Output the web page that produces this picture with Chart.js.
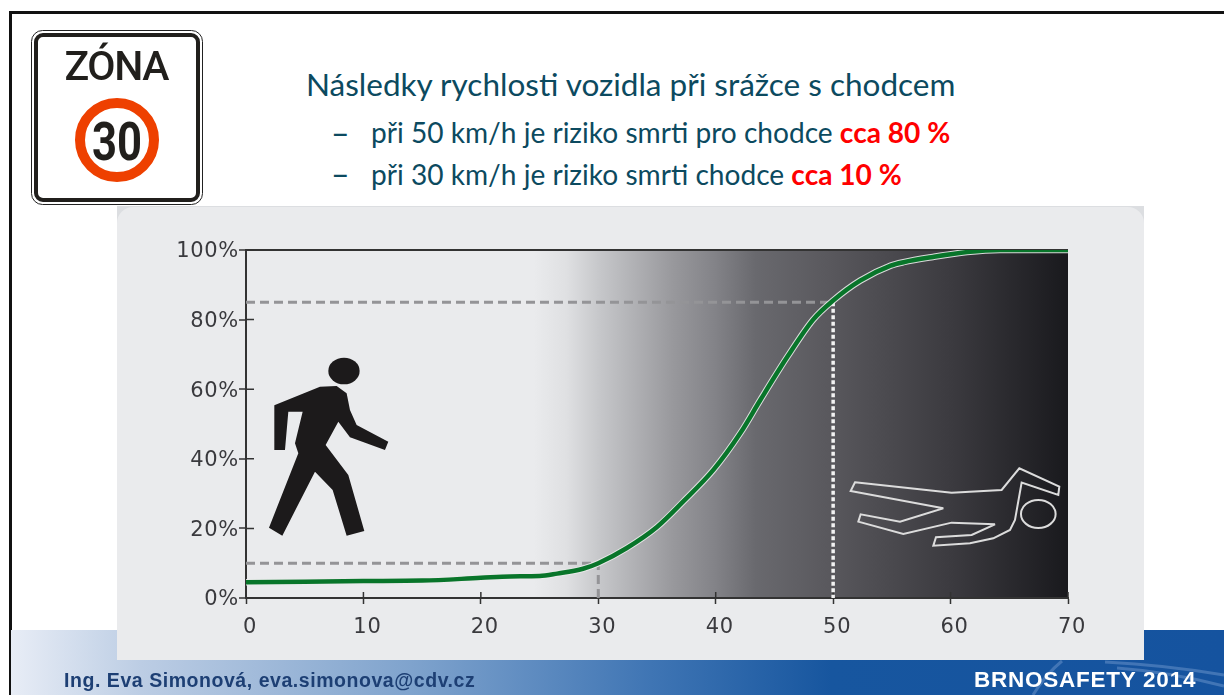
<!DOCTYPE html>
<html lang="cs">
<head>
<meta charset="utf-8">
<title>Následky rychlosti vozidla</title>
<script src="https://cdn.jsdelivr.net/npm/chart.js@4"></script>
<style>
html, body { margin: 0; padding: 0; width: 1224px; height: 695px; overflow: hidden; background: #fff; }
.abs { position: absolute; white-space: nowrap; }
#frameTop { left: 9px; top: 11px; width: 1215px; height: 3px; background: #111; }
#frameLeft { left: 9px; top: 11px; width: 2.5px; height: 684px; background: #111; }
#footer { left: 11px; top: 630px; width: 1213px; height: 65px;
    background: linear-gradient(90deg, #e8edf6 0, #bccde4 130px, #7fa3cd 400px, #3f75b4 640px, #17569f 820px, #15539f 100%); }
#title { left: 306px; top: 65px; font: 31.5px Lato, sans-serif; color: #0c4a5f; }
.bullet { font: 28.1px Lato, sans-serif; color: #0c4a5f; }
.bullet b { color: #f00; }
.dash { font: 32px Lato, sans-serif; color: #0c4a5f; }
#dash1 { left: 331px; top: 113px; }
#dash2 { left: 331px; top: 154px; }
#line1 { left: 371px; top: 115px; }
#line2 { left: 371px; top: 157px; }
#panelBack { left: 117px; top: 206px; width: 1027px; height: 454px; background: #dcdee1; }
#panel { left: 117px; top: 207px; width: 1027px; height: 453px; background: #eaebed; border-radius: 16px 16px 0 0; }
#chartCanvas { position: absolute; left: 117px; top: 206px; }
#overlay, #sign { position: absolute; left: 0; top: 0; }
#author { left: 64px; top: 669px; font: bold 19.5px "Liberation Sans", sans-serif; letter-spacing: 0.55px; color: #1d3f74; }
#event { left: 974px; top: 667px; font: bold 22.5px "Liberation Sans", sans-serif; letter-spacing: 0.75px; color: #fff; }
</style>
</head>
<body>
<div class="abs" id="frameTop"></div>
<div class="abs" id="frameLeft"></div>
<div class="abs" id="footer"></div>
<div class="abs" id="title">Následky rychlosti vozidla při srážce s chodcem</div>
<div class="abs dash" id="dash1">–</div>
<div class="abs bullet" id="line1">při 50 km/h je riziko smrti pro chodce <b>cca 80 %</b></div>
<div class="abs dash" id="dash2">–</div>
<div class="abs bullet" id="line2">při 30 km/h je riziko smrti chodce <b>cca 10 %</b></div>
<div class="abs" id="panelBack"></div>
<div class="abs" id="panel"></div>
<canvas id="chartCanvas" width="1027" height="454"></canvas>

<svg id="sign" width="240" height="215">
    <rect x="31.5" y="30.5" width="171" height="174" rx="11" fill="#fff" stroke="#222" stroke-width="1"/>
    <rect x="36" y="35" width="162" height="165" rx="7" fill="#fff" stroke="#211f1c" stroke-width="4"/>
    <text x="117" y="80" text-anchor="middle" font-family="Roboto" font-weight="500" font-size="41" textLength="105" fill="#211f1c">ZÓNA</text>
    <circle cx="117" cy="140" r="37" fill="#fff" stroke="#ee4000" stroke-width="10"/>
    <text x="117" y="160" text-anchor="middle" font-family="Roboto" font-weight="700" font-size="53" textLength="50" lengthAdjust="spacingAndGlyphs" fill="#211f1c">30</text>
</svg>

<svg id="overlay" width="1224" height="695">
    <g fill="none" stroke="rgba(170,195,235,0.3)" stroke-width="3">
        <path d="M1033 695 Q1045 675 1062 661"/>
        <path d="M1117 668 Q1170 672 1224 686"/>
        <path d="M1105 662 Q1165 665 1224 675"/>
    </g>
    <g transform="translate(120 340) scale(0.3333)" fill="#1c1a1b">
        <ellipse cx="672" cy="93" rx="47" ry="40"/>
        <polygon points="463,196 600,140 650,138 680,160 690,210 710,255 805,305 795,330 690,292 655,245 617,315 685,405 733,573 680,587 638,450 585,395 487,587 447,563 535,340 525,310 548,215 505,215 495,330 463,330"/>
    </g>
    <g transform="translate(700 200) scale(0.3333)" fill="none" stroke="#dcdcdc" stroke-width="6">
        <polygon points="465,847 755,878 905,870 958,805 1078,860 1075,885 965,848 945,960 930,990 880,1015 810,1030 700,1037 708,1012 815,1005 885,973 755,968 610,1002 475,965 482,943 600,965 730,925 452,873"/>
        <ellipse cx="1015" cy="942" rx="52" ry="42"/>
    </g>
</svg>

<div class="abs" id="author">Ing. Eva Simonová, eva.simonova@cdv.cz</div>
<div class="abs" id="event">BRNOSAFETY 2014</div>

<script>
// Data
const speeds = [0, 5, 10, 15, 20, 22.5, 25, 26.5, 28.7, 30, 32.4, 35, 37.2, 39.8, 42.1, 43.8, 46.1, 48.3, 50, 52.3, 54.9, 56, 58.5, 61.4, 64.2, 70];
const risk = [4.5, 4.7, 4.9, 5, 5.8, 6.2, 6.3, 7, 8.4, 10, 14.3, 20.4, 27.6, 36.8, 47.4, 56.9, 69.3, 80, 85.5, 91.2, 95.5, 96.5, 98, 99.4, 100, 100];
const guide30X = [0, 30, 30];
const guide30Y = [10, 10, 0];
const guide50HX = [0, 50];
const guide50HY = [85, 85];
const guide50VX = [50, 50];
const guide50VY = [85, 0];

const toPoints = (xs, ys) => xs.map((x, i) => ({ x, y: ys[i] }));

// Grey to black background of the plot
const plotBackground = {
    id: 'plotBackground',
    beforeDraw(chart) {
        const { ctx, chartArea: a } = chart;
        const g = ctx.createLinearGradient(a.left, 0, a.right, 0);
        g.addColorStop(0, '#eaebed');
        g.addColorStop(0.35, '#eaebed');
        g.addColorStop(0.39, '#dfe0e2');
        g.addColorStop(0.43, '#c6c7ca');
        g.addColorStop(0.52, '#98989c');
        g.addColorStop(0.57, '#838388');
        g.addColorStop(0.62, '#69696e');
        g.addColorStop(0.71, '#59585d');
        g.addColorStop(0.86, '#3b3a3f');
        g.addColorStop(1, '#19191d');
        ctx.save();
        ctx.fillStyle = g;
        ctx.fillRect(a.left, a.top, a.right - a.left, a.bottom - a.top);
        ctx.restore();
        ctx.letterSpacing = '0.7px';
    }
};

// Tick marks cross the axis, Chart.js only draws the outer half
const innerTicks = {
    id: 'innerTicks',
    beforeDatasetsDraw(chart) {
        const { ctx, chartArea: a, scales } = chart;
        ctx.save();
        ctx.strokeStyle = '#333';
        ctx.lineWidth = 1.5;
        ctx.beginPath();
        scales.x.ticks.forEach(t => {
            const px = scales.x.getPixelForValue(t.value);
            ctx.moveTo(px, a.bottom);
            ctx.lineTo(px, a.bottom - 6);
        });
        scales.y.ticks.forEach(t => {
            const py = scales.y.getPixelForValue(t.value);
            ctx.moveTo(a.left, py);
            ctx.lineTo(a.left + 8, py);
        });
        ctx.stroke();
        ctx.restore();
    }
};

const tickFont = { family: '"DejaVu Sans"', size: 21 };

new Chart(document.getElementById('chartCanvas'), {
    type: 'line',
    data: {
        datasets: [
            { data: toPoints(speeds, risk), borderColor: '#08752a', borderWidth: 4.5, cubicInterpolationMode: 'monotone', order: 0 },
            { data: toPoints(speeds, risk), borderColor: 'rgba(235,235,235,0.9)', borderWidth: 6.5, cubicInterpolationMode: 'monotone', order: 1 },
            { data: toPoints(guide30X, guide30Y), borderColor: '#949497', borderWidth: 3, borderDash: [9, 5], order: 2 },
            { data: toPoints(guide50HX, guide50HY), borderColor: '#949497', borderWidth: 3, borderDash: [9, 5], order: 2 },
            { data: toPoints(guide50VX, guide50VY), borderColor: '#f2f2f2', borderWidth: 3.5, borderDash: [4, 2.5], order: 2 }
        ]
    },
    options: {
        responsive: false,
        animation: false,
        layout: { padding: { top: 44, right: 76, left: 0, bottom: 0 } },
        elements: { point: { radius: 0 } },
        plugins: { legend: { display: false }, tooltip: { enabled: false } },
        scales: {
            x: {
                type: 'linear',
                min: 0,
                max: 70,
                afterFit(scale) { scale.height = 62; },
                ticks: { stepSize: 10, color: '#3a3a3e', font: tickFont, padding: 11, maxRotation: 0, labelOffset: 4 },
                grid: { drawOnChartArea: false, tickLength: 6, tickColor: '#333', tickWidth: 1.5 },
                border: { color: '#333', width: 2 }
            },
            y: {
                min: 0,
                max: 100,
                afterFit(scale) { scale.width = 129; },
                ticks: { stepSize: 20, color: '#3a3a3e', font: tickFont, padding: 0, labelOffset: 2, callback: v => v + '%' },
                grid: {
                    color: c => (c.tick && c.tick.value === 100 ? '#333' : 'transparent'),
                    lineWidth: 2,
                    tickLength: 7,
                    tickColor: '#333',
                    tickWidth: 1.5
                },
                border: { color: '#333', width: 2 }
            }
        }
    },
    plugins: [plotBackground, innerTicks]
});
</script>
</body>
</html>
